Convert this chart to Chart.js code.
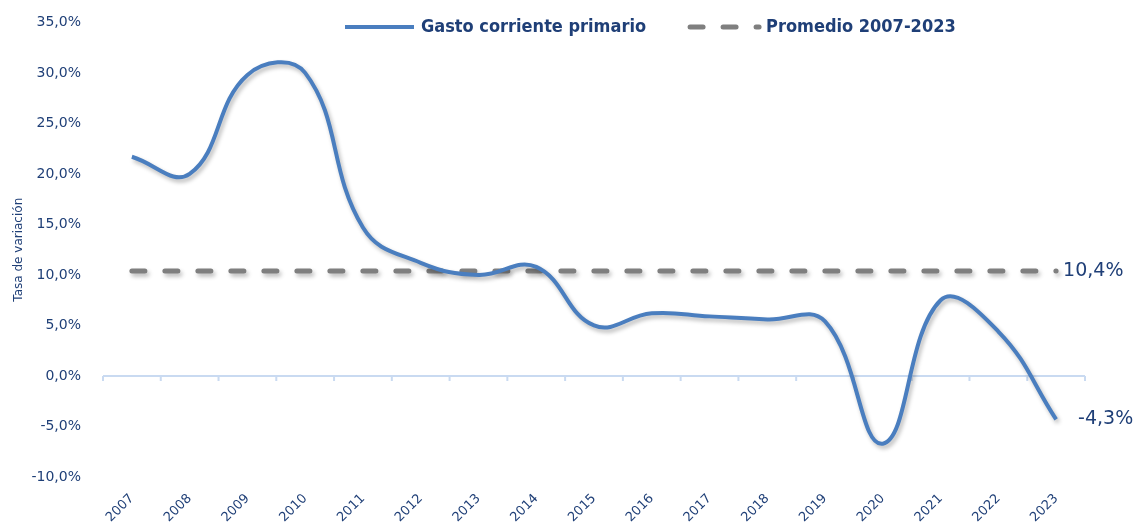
<!DOCTYPE html>
<html>
<head>
<meta charset="utf-8">
<script src="https://cdn.jsdelivr.net/npm/chart.js@4.4.0/dist/chart.umd.min.js"></script>
<style>
html, body { margin: 0; padding: 0; background: #fff; }
#wrap { width: 1135px; height: 524px; }
</style>
</head>
<body>
<div id="wrap"><canvas id="chart" width="1135" height="524"></canvas></div>
<script>
// datos
var years = ['2007', '2008', '2009', '2010', '2011', '2012', '2013', '2014', '2015',
             '2016', '2017', '2018', '2019', '2020', '2021', '2022', '2023'];
var gastoCorriente = [21.7, 20.0, 29.8, 30.0, 14.7, 11.2, 10.0, 10.8, 5.0,
                      6.2, 5.9, 5.6, 5.4, -6.7, 7.5, 4.4, -4.3];
var promedio = 10.4;
var promedioLine = [10.4, 10.4, 10.4, 10.4, 10.4, 10.4, 10.4, 10.4, 10.4,
                    10.4, 10.4, 10.4, 10.4, 10.4, 10.4, 10.4, 10.4];
var yTicks = { min: -10, max: 35, step: 5 };

var navy = '#1F3F77';
var blue = '#4A7EBF';
var gray = '#7F7F7F';
var tickFont = '"DejaVu Sans", sans-serif';

function fmt(v) {
	return v.toFixed(1).replace('.', ',') + '%';
}

// sombra suave bajo las lineas
var lineShadow = {
	id: 'lineShadow',
	beforeDatasetDraw: function(chart) {
		var ctx = chart.ctx;
		ctx.save();
		ctx.shadowColor = 'rgba(0,0,0,0.28)';
		ctx.shadowBlur = 4;
		ctx.shadowOffsetX = 2;
		ctx.shadowOffsetY = 3;
	},
	afterDatasetDraw: function(chart) {
		chart.ctx.restore();
	}
};

// eje en el 0 con marcas entre categorias
var zeroAxis = {
	id: 'zeroAxis',
	beforeDatasetsDraw: function(chart) {
		var ctx = chart.ctx, area = chart.chartArea;
		var xs = chart.scales.x, ys = chart.scales.y;
		var y0 = ys.getPixelForValue(0);
		var half = (xs.getPixelForValue(1) - xs.getPixelForValue(0)) / 2;
		ctx.save();
		ctx.strokeStyle = '#C9DAF1';
		ctx.lineWidth = 2;
		ctx.beginPath();
		ctx.moveTo(area.left, y0);
		ctx.lineTo(area.right, y0);
		for (var i = 0; i <= years.length; i++) {
			var px = xs.getPixelForValue(i) - half;
			ctx.moveTo(px, y0);
			ctx.lineTo(px, y0 + 5);
		}
		ctx.stroke();
		ctx.restore();
	}
};

// etiquetas al final de cada serie
var endLabels = {
	id: 'endLabels',
	afterDatasetsDraw: function(chart) {
		var ctx = chart.ctx;
		var xs = chart.scales.x, ys = chart.scales.y;
		var last = years.length - 1;
		var px = xs.getPixelForValue(last);
		ctx.save();
		ctx.font = '19px ' + tickFont;
		ctx.fillStyle = navy;
		ctx.textAlign = 'left';
		ctx.textBaseline = 'middle';
		ctx.fillText(fmt(promedio), px + 7, ys.getPixelForValue(promedio));
		ctx.fillText(fmt(gastoCorriente[last]), px + 22, ys.getPixelForValue(gastoCorriente[last]));
		ctx.restore();
	}
};

// leyenda en una sola fila arriba
var legendRow = {
	id: 'legendRow',
	afterDraw: function(chart) {
		var ctx = chart.ctx;
		var x = 345, y = 27;
		ctx.save();
		ctx.font = 'bold 18px "DejaVu Sans Condensed", "DejaVu Sans", sans-serif';
		ctx.textBaseline = 'middle';
		ctx.textAlign = 'left';
		chart.data.datasets.forEach(function(ds) {
			ctx.beginPath();
			ctx.strokeStyle = ds.borderColor;
			ctx.lineWidth = ds.borderWidth;
			ctx.setLineDash(ds.borderDash || []);
			ctx.lineCap = ds.borderCapStyle || 'butt';
			ctx.moveTo(x, y);
			ctx.lineTo(x + 69, y);
			ctx.stroke();
			ctx.fillStyle = navy;
			ctx.fillText(ds.label, x + 76, y);
			x += 76 + ctx.measureText(ds.label).width + 44;
		});
		ctx.restore();
	}
};

var chart = new Chart(document.getElementById('chart'), {
	type: 'line',
	data: {
		labels: years,
		datasets: [{
			label: 'Gasto corriente primario',
			data: gastoCorriente,
			borderColor: blue,
			backgroundColor: blue,
			borderWidth: 4,
			pointRadius: 0,
			tension: 0.42,
			fill: false
		}, {
			label: 'Promedio 2007-2023',
			data: promedioLine,
			borderColor: gray,
			backgroundColor: gray,
			borderWidth: 5,
			borderDash: [13, 20],
			borderCapStyle: 'round',
			pointRadius: 0,
			fill: false
		}]
	},
	options: {
		responsive: false,
		animation: false,
		layout: { padding: { top: 19, right: 50, bottom: 0, left: 0 } },
		plugins: {
			legend: { display: false },
			tooltip: { enabled: false }
		},
		scales: {
			x: {
				offset: true,
				grid: { display: false },
				border: { display: false },
				ticks: {
					color: navy,
					font: { family: tickFont, size: 13 },
					minRotation: 45,
					maxRotation: 45,
					padding: 6
				},
				afterFit: function(scale) { scale.height = 47; }
			},
			y: {
				min: yTicks.min,
				max: yTicks.max,
				grid: { display: false },
				border: { display: false },
				ticks: {
					stepSize: yTicks.step,
					color: navy,
					font: { family: tickFont, size: 14 },
					padding: 14,
					callback: function(v) { return fmt(v); }
				},
				title: {
					display: true,
					text: 'Tasa de variación',
					color: navy,
					font: { family: tickFont, size: 12 },
					padding: { top: 12, bottom: 0 }
				},
				afterFit: function(scale) { scale.width = 103; }
			}
		}
	},
	plugins: [zeroAxis, lineShadow, endLabels, legendRow]
});
</script>
</body>
</html>
